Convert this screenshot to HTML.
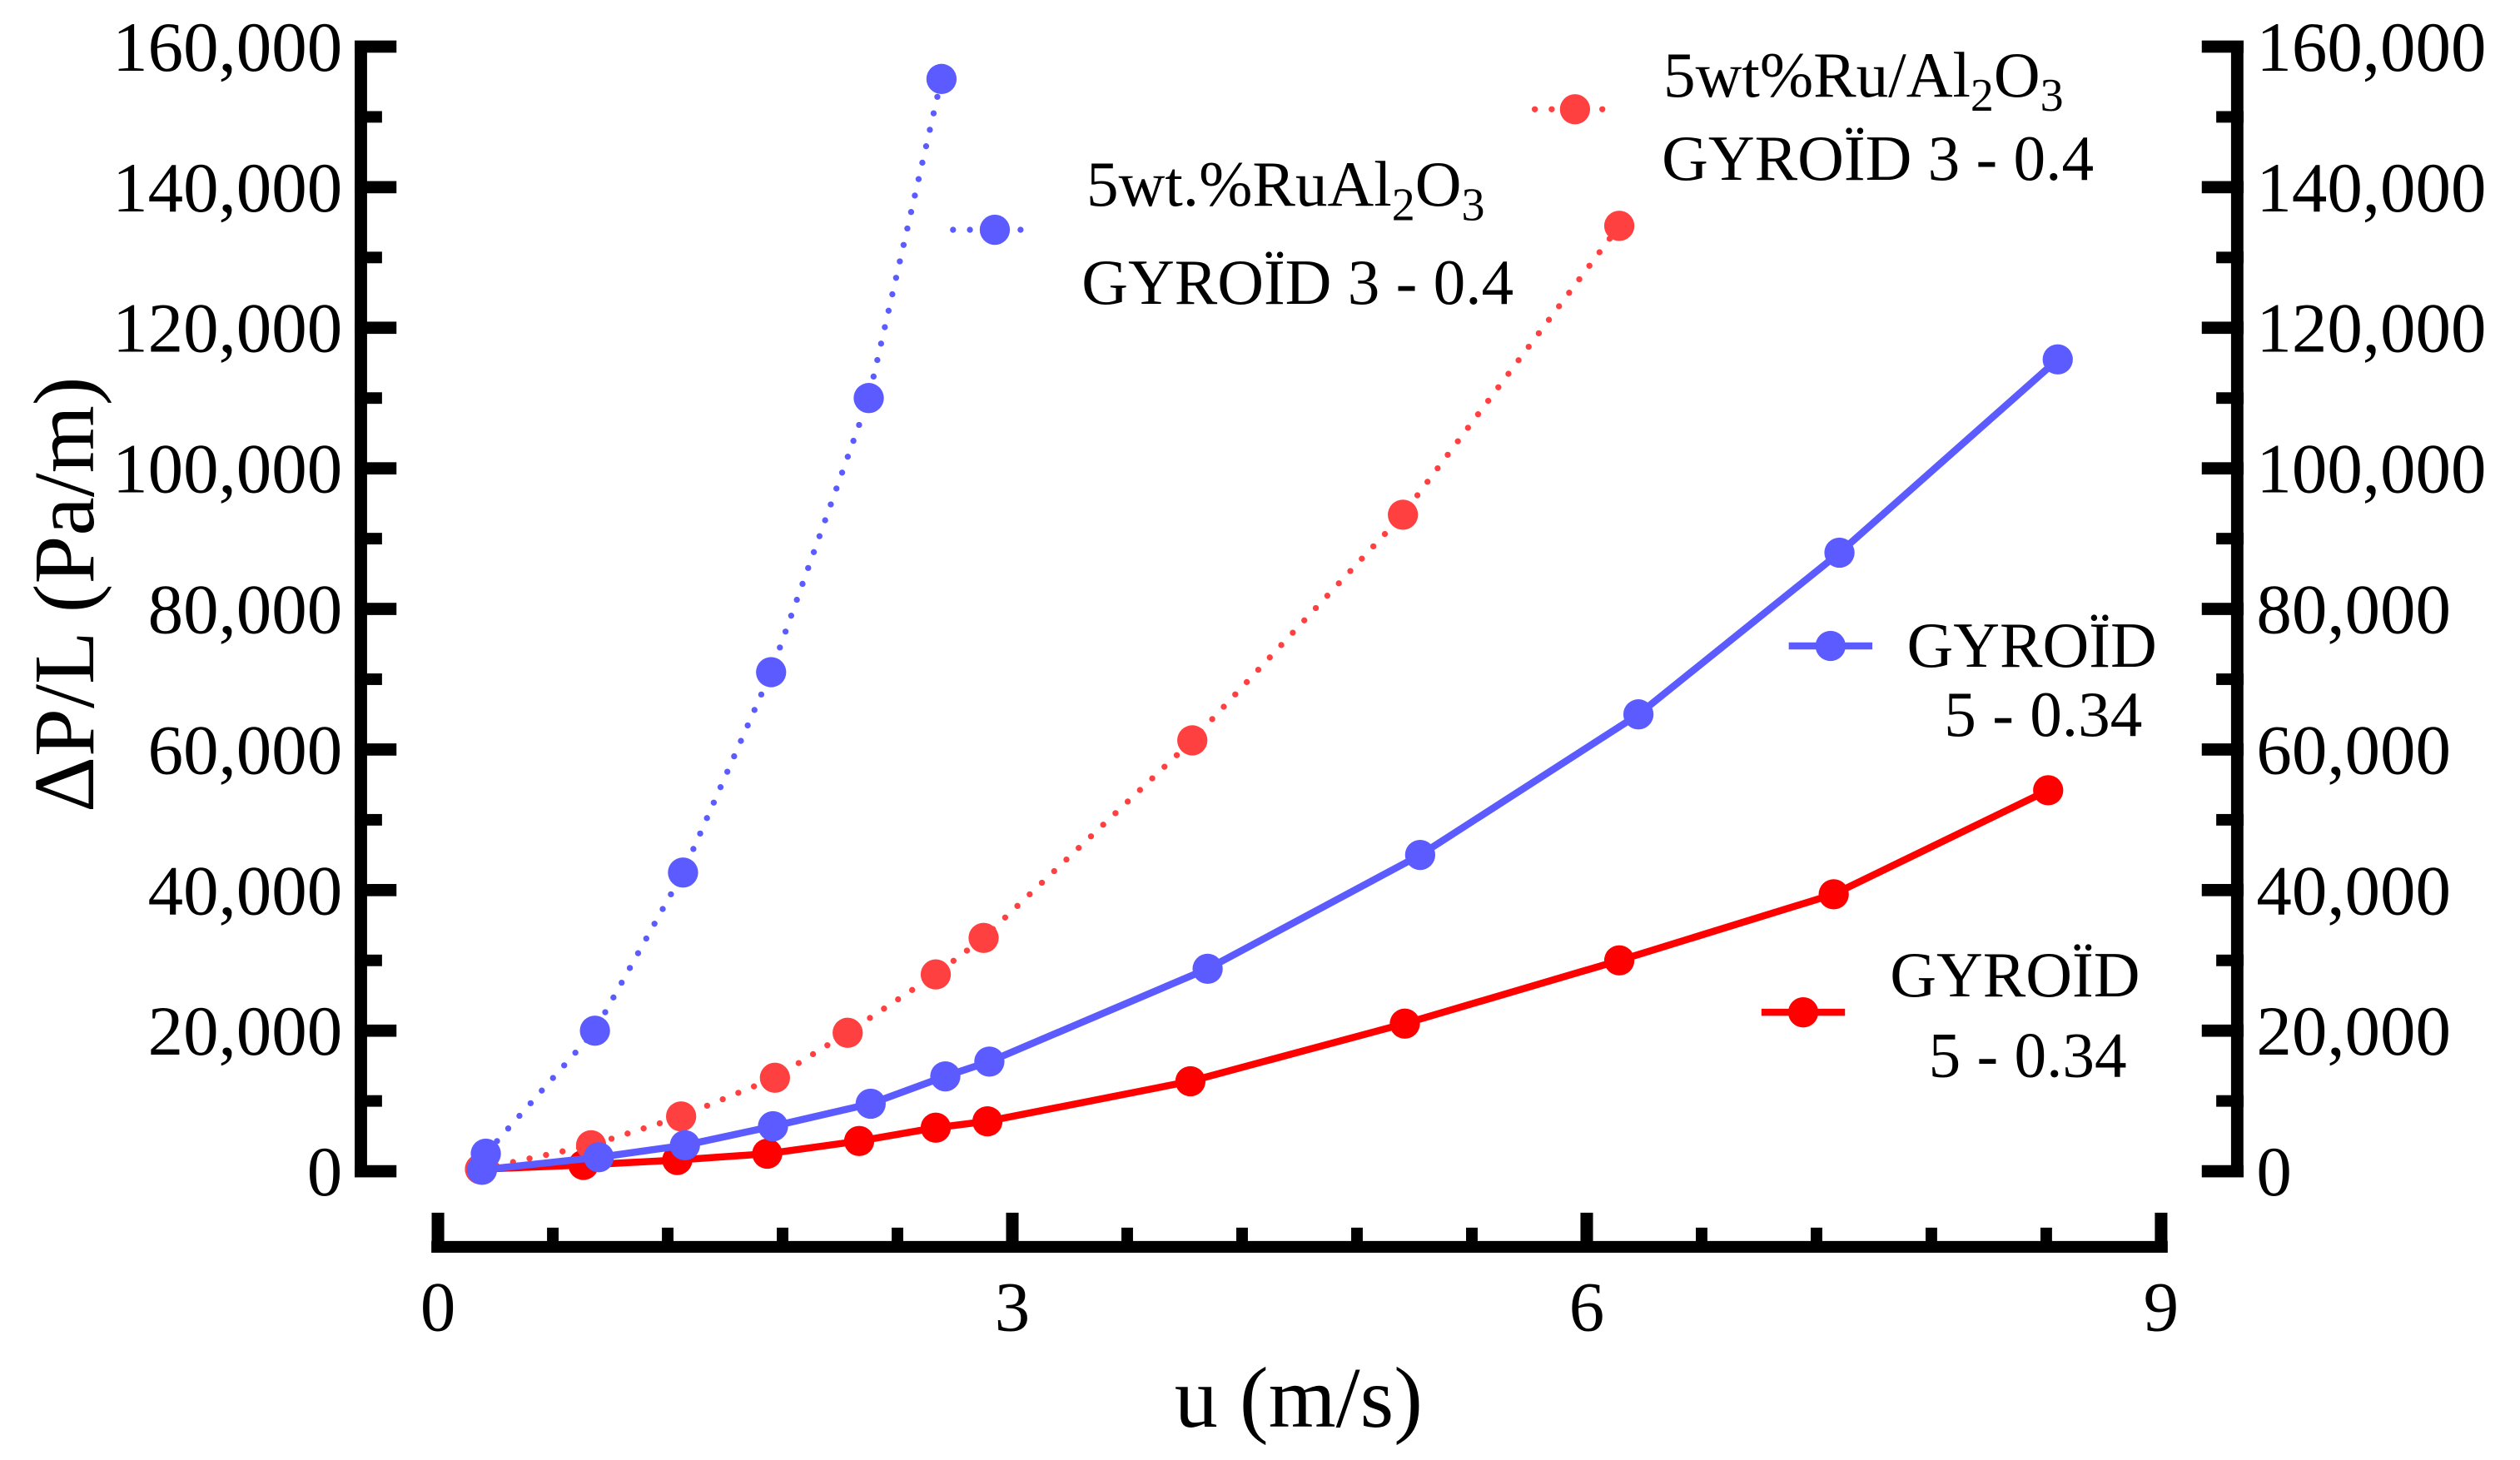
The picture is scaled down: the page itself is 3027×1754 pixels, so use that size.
<!DOCTYPE html>
<html><head><meta charset="utf-8"><style>
html,body{margin:0;padding:0;background:#fff;}
svg{display:block;font-family:"Liberation Serif",serif;}
</style></head><body>
<svg id="chart" width="3027" height="1754" viewBox="0 0 1568 908.6" preserveAspectRatio="none" xmlns="http://www.w3.org/2000/svg">
<g id="axes"></g>
<g id="series"></g>
<g id="legend">
  <text x="676" y="128" font-size="40">5wt.%RuAl<tspan font-size="29" dy="9">2</tspan><tspan dy="-9">O</tspan><tspan font-size="29" dy="9">3</tspan></text>
  <text x="673" y="189" font-size="40">GYROÏD 3 - 0.4</text>
  <text x="1035" y="60" font-size="40">5wt%Ru/Al<tspan font-size="29" dy="9">2</tspan><tspan dy="-9">O</tspan><tspan font-size="29" dy="9">3</tspan></text>
  <text x="1034" y="112" font-size="40">GYROÏD 3 - 0.4</text>
  <text x="1342" y="415" font-size="40" text-anchor="end">GYROÏD</text>
  <text x="1333" y="458" font-size="40" text-anchor="end">5 - 0.34</text>
  <text x="1176" y="620" font-size="40">GYROÏD</text>
  <text x="1200" y="670" font-size="40">5 - 0.34</text>
</g>
<text x="808" y="888" font-size="54" text-anchor="middle">u (m/s)</text>
<text transform="translate(58,370) rotate(-90)" font-size="54" text-anchor="middle">ΔP/L (Pa/m)</text>
</svg>
<script>
const xTicks = [0, 3, 6, 9];
const yTicks = [0, 20000, 40000, 60000, 80000, 100000, 120000, 140000, 160000];
const blueDotX = [0.25, 0.82, 1.28, 1.74, 2.25, 2.63];
const blueDotY = [2500, 20000, 42500, 71000, 110000, 155400];
const redDotX = [0.22, 0.8, 1.27, 1.76, 2.14, 2.6, 2.85, 3.94, 5.04, 6.17];
const redDotY = [300, 3700, 7800, 13300, 19700, 28000, 33200, 61300, 93400, 134500];
const blueSolidX = [0.23, 0.84, 1.29, 1.75, 2.26, 2.65, 2.88, 4.02, 5.13, 6.27, 7.32, 8.46];
const blueSolidY = [200, 2000, 3700, 6400, 9600, 13500, 15600, 28800, 45000, 65000, 88000, 115500];
const redSolidX = [0.22, 0.76, 1.25, 1.72, 2.2, 2.6, 2.87, 3.93, 5.05, 6.17, 7.29, 8.41];
const redSolidY = [300, 900, 1600, 2500, 4300, 6200, 7100, 12800, 21000, 30000, 39400, 54200];

const NS = "http://www.w3.org/2000/svg";
const X0 = 272.5, X1 = 1344.7, Y0 = 728.9, Y1 = 29;
function sx(v){ return X0 + (v - 0) / 9 * (X1 - X0); }
function sy(v){ return Y0 - v / 160000 * (Y0 - Y1); }
function mk(tag, attrs, parent){
  const e = document.createElementNS(NS, tag);
  for (const k in attrs) e.setAttribute(k, attrs[k]);
  parent.appendChild(e);
  return e;
}
const axes = document.getElementById('axes');
let e = mk('rect', {x:220.7, y:25.5, width:7.7, height:707, fill:'#000'}, axes);


e = mk('rect', {x:1388.2, y:25.5, width:7.7, height:707, fill:'#000'}, axes);


e = mk('rect', {x:268.4, y:772.3, width:1080.4, height:7.3, fill:'#000'}, axes);


for (let i = 0; i < yTicks.length; i++){
  const v = yTicks[i], y = sy(v);
  e = mk('rect', {x:220.7, y:y-3.8, width:26, height:7.6, fill:'#000'}, axes);
  
  
  e = mk('rect', {x:1370, y:y-3.8, width:26, height:7.6, fill:'#000'}, axes);
  
  
  const lbl = v.toLocaleString('en-US');
  e = mk('text', {x:213, y:y+15, 'font-size':44, 'text-anchor':'end'}, axes);
  e.textContent = lbl;
  
  
  e = mk('text', {x:1404, y:y+15, 'font-size':44}, axes);
  e.textContent = lbl;
  
  
  if (i < yTicks.length - 1){
    const ym = sy(v + 10000);
    e = mk('rect', {x:220.7, y:ym-3.6, width:17, height:7.2, fill:'#000'}, axes);
    
    
    e = mk('rect', {x:1379, y:ym-3.6, width:17, height:7.2, fill:'#000'}, axes);
    
    
  }
}
for (let i = 0; i < xTicks.length; i++){
  const v = xTicks[i], x = sx(v);
  e = mk('rect', {x:x-3.9, y:754.7, width:7.8, height:22, fill:'#000'}, axes);
  
  
  e = mk('text', {x:x, y:828, 'font-size':44, 'text-anchor':'middle'}, axes);
  e.textContent = String(v);
  
  
  if (i < xTicks.length - 1){
    for (let j = 1; j < 5; j++){
      const xm = sx(v + j * 0.6);
      e = mk('rect', {x:xm-3.6, y:764, width:7.2, height:12, fill:'#000'}, axes);
      
      
    }
  }
}
const series = document.getElementById('series');
function draw(xs, ys, color, dotted, name){
  const g = mk('g', {}, series);
  
  
  const pts = xs.map((x, i) => sx(x).toFixed(1) + ',' + sy(ys[i]).toFixed(1)).join(' ');
  const attrs = {points:pts, fill:'none', stroke:color};
  if (dotted){ attrs['stroke-width'] = 3.8; attrs['stroke-dasharray'] = '0 10.5'; attrs['stroke-linecap'] = 'round'; }
  else { attrs['stroke-width'] = 4.4; attrs['stroke-linejoin'] = 'round'; }
  const l = mk('polyline', attrs, g);
  
  
  for (let i = 0; i < xs.length; i++){
    const c = mk('circle', {cx:sx(xs[i]), cy:sy(ys[i]), r:9.4, fill:color}, g);
    
    
  }
}
draw(redSolidX, redSolidY, '#ff0000', false, 'series-red-solid');
draw(redDotX, redDotY, '#ff4040', true, 'series-red-dotted');
draw(blueSolidX, blueSolidY, '#5b5bff', false, 'series-blue-solid');
draw(blueDotX, blueDotY, '#5b5bff', true, 'series-blue-dotted');

const leg = document.getElementById('legend');
function legMark(x1, x2, y, color, dotted, name){
  const a = {x1:x1, x2:x2, y1:y, y2:y, stroke:color};
  if (dotted){ a['stroke-width'] = 3.8; a['stroke-dasharray'] = '0 10.5'; a['stroke-linecap'] = 'round'; }
  else a['stroke-width'] = 4.4;
  const l = mk('line', a, leg);
  
  
  const c = mk('circle', {cx:(x1 + x2) / 2, cy:y, r:9.4, fill:color}, leg);
  
  
}
legMark(593, 645, 143, '#5b5bff', true, 'legend-blue-dotted');
legMark(955, 1005, 68, '#ff4040', true, 'legend-red-dotted');
legMark(1113, 1165, 402, '#5b5bff', false, 'legend-blue-solid');
legMark(1096, 1148, 630, '#ff0000', false, 'legend-red-solid');
</script>
</body></html>
